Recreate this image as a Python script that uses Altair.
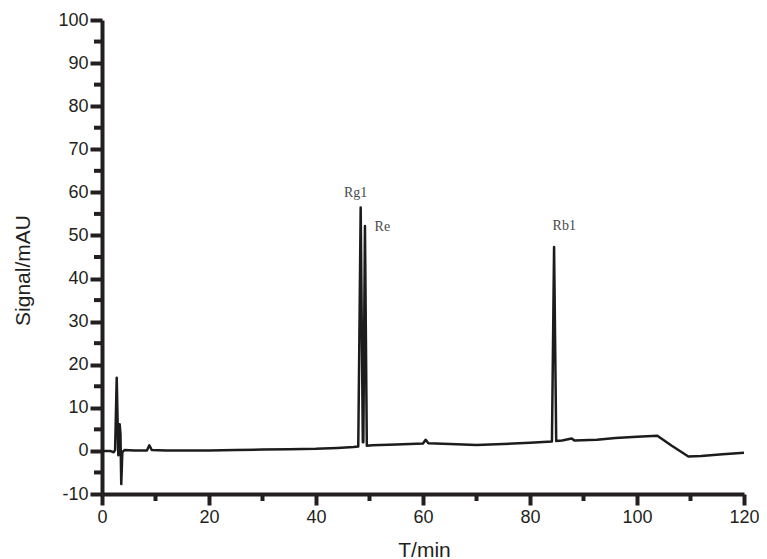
import altair as alt
import pandas as pd

# Chromatogram trace (time in min, signal in mAU)
time = [0, 1.5, 2.2, 2.45, 2.75, 3.05, 3.3, 3.45, 3.6, 3.8, 4.2, 6, 8.4, 8.85, 9.3,
        12, 16, 20, 25, 30, 35, 40, 44, 47.0, 47.9, 48.35, 48.75, 48.85, 49.15, 49.5,
        50.5, 55, 60.0, 60.5, 61.0, 65, 70, 75, 80, 84.1, 84.5, 84.9, 86, 87.8, 88.3,
        92.5, 96, 100, 103.8, 106.5, 109.6, 112, 116, 120]
signal = [0, 0, -0.3, 0.2, 17.0, -1.0, 6.2, 4.0, -7.7, -0.3, 0.2, 0.1, 0.1, 1.3, 0.2,
          0.1, 0.1, 0.1, 0.2, 0.3, 0.4, 0.5, 0.7, 0.9, 1.0, 56.5, 2.0, 2.0, 52.2, 1.2,
          1.3, 1.5, 1.7, 2.6, 1.8, 1.6, 1.4, 1.6, 1.9, 2.2, 47.3, 2.3, 2.4, 2.9, 2.4,
          2.6, 3.0, 3.3, 3.5, 1.2, -1.3, -1.2, -0.8, -0.4]

# Peak annotations
peak_labels = ["Rg1", "Re", "Rb1"]
peak_x = [47.4, 52.4, 86.4]
peak_y = [58.9, 51.0, 51.3]

# Axis ticks
x_major = [0, 20, 40, 60, 80, 100, 120]
x_minor = [10, 30, 50, 70, 90, 110]
y_major = [-10, 0, 10, 20, 30, 40, 50, 60, 70, 80, 90, 100]
y_minor = [-5, 5, 15, 25, 35, 45, 55, 65, 75, 85, 95]

df = pd.DataFrame({"t": time, "s": signal})
lab = pd.DataFrame({"label": peak_labels, "t": peak_x, "s": peak_y})
xm = pd.DataFrame({"v": x_minor})
ym = pd.DataFrame({"v": y_minor})

ink = "#231f20"
FONT = "Liberation Sans"
W, H = 642, 474

xs = alt.Scale(domain=[0, 120], nice=False, zero=False)
ys = alt.Scale(domain=[-10, 100], nice=False, zero=False)

main = alt.Chart(df).mark_line(color="#1c1c1c", strokeWidth=2.5, strokeJoin="round").encode(
    x=alt.X("t:Q", scale=xs, axis=alt.Axis(
        values=x_major, title="T/min", orient="bottom",
        labelExpr="'' + datum.value", labelPadding=3, labelFlush=False,
        titleBaseline="alphabetic", titleX=322, titleY=62)),
    y=alt.Y("s:Q", scale=ys, axis=alt.Axis(
        values=y_major, title="Signal/mAU", orient="left",
        labelExpr="'' + datum.value", labelPadding=2,
        titleAngle=270, titleBaseline="bottom", titleAlign="center",
        titleX=-69, titleY=250)),
)

# minor tick stubs, positioned through the shared scales
x_minor_ticks = alt.Chart(xm).mark_rule(color=ink, strokeWidth=4).encode(
    x=alt.X("v:Q", scale=xs),
    y=alt.value(H),
    y2=alt.value(H + 7),
)
y_minor_ticks = alt.Chart(ym).mark_rule(color=ink, strokeWidth=4).encode(
    y=alt.Y("v:Q", scale=ys),
    x=alt.value(0),
    x2=alt.value(-8),
)

text = alt.Chart(lab).mark_text(
    font="Liberation Serif", fontSize=14, color="#4a4a4a", baseline="alphabetic", align="center"
).encode(
    x=alt.X("t:Q", scale=xs),
    y=alt.Y("s:Q", scale=ys),
    text="label:N",
)

chart = alt.layer(main, x_minor_ticks, y_minor_ticks, text).properties(
    width=W, height=H,
    autosize=alt.AutoSizeParams(type="none"),
    padding={"left": 94, "top": 12, "right": 15, "bottom": 65},
).configure_view(stroke=None, clip=False).configure_axis(
    grid=False, domainColor=ink, domainWidth=4, tickColor=ink, tickWidth=4,
    labelFont=FONT, labelFontSize=18, labelColor=ink,
    titleFont=FONT, titleFontSize=21, titleFontWeight="normal", titleColor=ink,
).configure_axisX(tickSize=11).configure_axisY(tickSize=12)

chart.save("out.html", embed_options={"renderer": "svg", "actions": False})
